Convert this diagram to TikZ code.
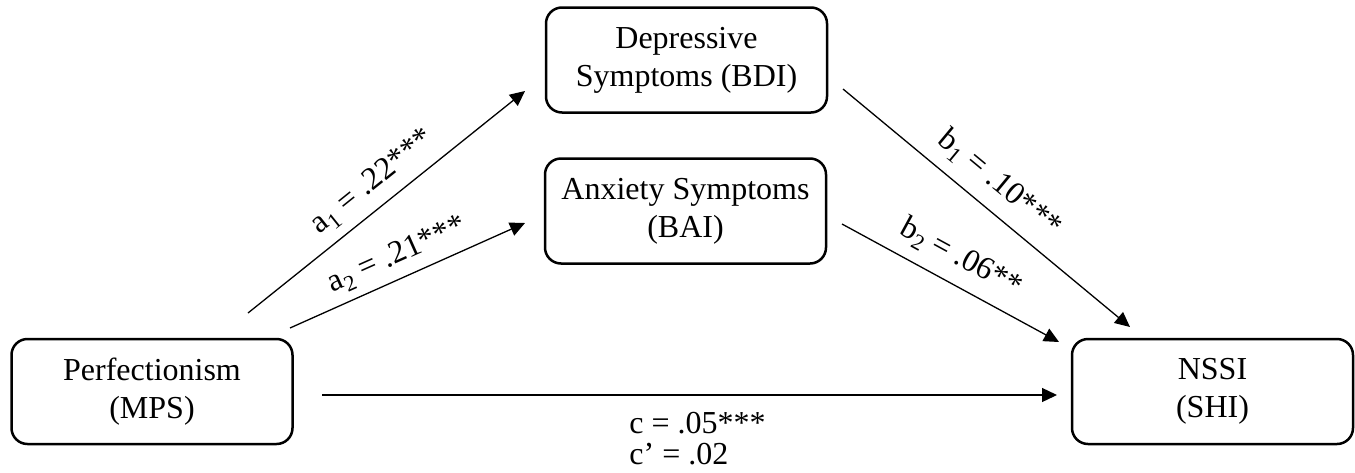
\documentclass[tikz,border=0pt]{standalone}
\usepackage{fontspec}
\setmainfont{Liberation Serif}
\usetikzlibrary{arrows.meta}
\begin{document}
\begin{tikzpicture}[x=1pt,y=-1pt,
  box/.style={draw, line width=2.5pt, rounded corners=16pt, minimum width=281pt, minimum height=105pt, align=center, inner sep=0pt, font=\fontsize{32}{38}\selectfont},
  link/.style={line width=1.3pt, -{Triangle[length=15pt,width=14pt]}},
  lbl/.style={font=\fontsize{32}{38}\selectfont, sloped, inner sep=0pt, anchor=center}]
\useasboundingbox (0,0) rectangle (1355,472);
\node[box] (P) at (152,391.5) {Perfectionism\\(MPS)};
\node[box] (D) at (686.5,60) {Depressive\\Symptoms (BDI)};
\node[box] (A) at (685.5,211) {Anxiety Symptoms\\(BAI)};
\node[box] (N) at (1212.5,391.5) {NSSI\\(SHI)};
\coordinate (a1s) at (248,313);
\coordinate (a1e) at (525,91);
\coordinate (a2s) at (290,328);
\coordinate (a2e) at (525,223);
\coordinate (b1s) at (843,89);
\coordinate (b1e) at (1130,327);
\coordinate (b2s) at (842,224);
\coordinate (b2e) at (1059,342);
\coordinate (cs) at (322,395);
\coordinate (ce) at (1057,395);
\draw[link] (a1s) -- node[lbl, pos=0.505, yshift=24pt] {a\textsubscript{1} = .22***} (a1e);
\draw[link] (a2s) -- node[lbl, pos=0.495, yshift=22.5pt] {a\textsubscript{2} = .21***} (a2e);
\draw[link] (b1s) -- node[lbl, pos=0.485, yshift=27pt] {b\textsubscript{1} = .10***} (b1e);
\draw[link] (b2s) -- node[lbl, pos=0.489, yshift=27pt] {b\textsubscript{2} = .06**} (b2e);
\draw[link] (cs) -- node[pos=0.511, below=17pt, inner sep=0pt, align=left, font=\fontsize{32}{38}\selectfont] {c = .05***\\[-7pt]c’ = .02} (ce);
\end{tikzpicture}
\end{document}
